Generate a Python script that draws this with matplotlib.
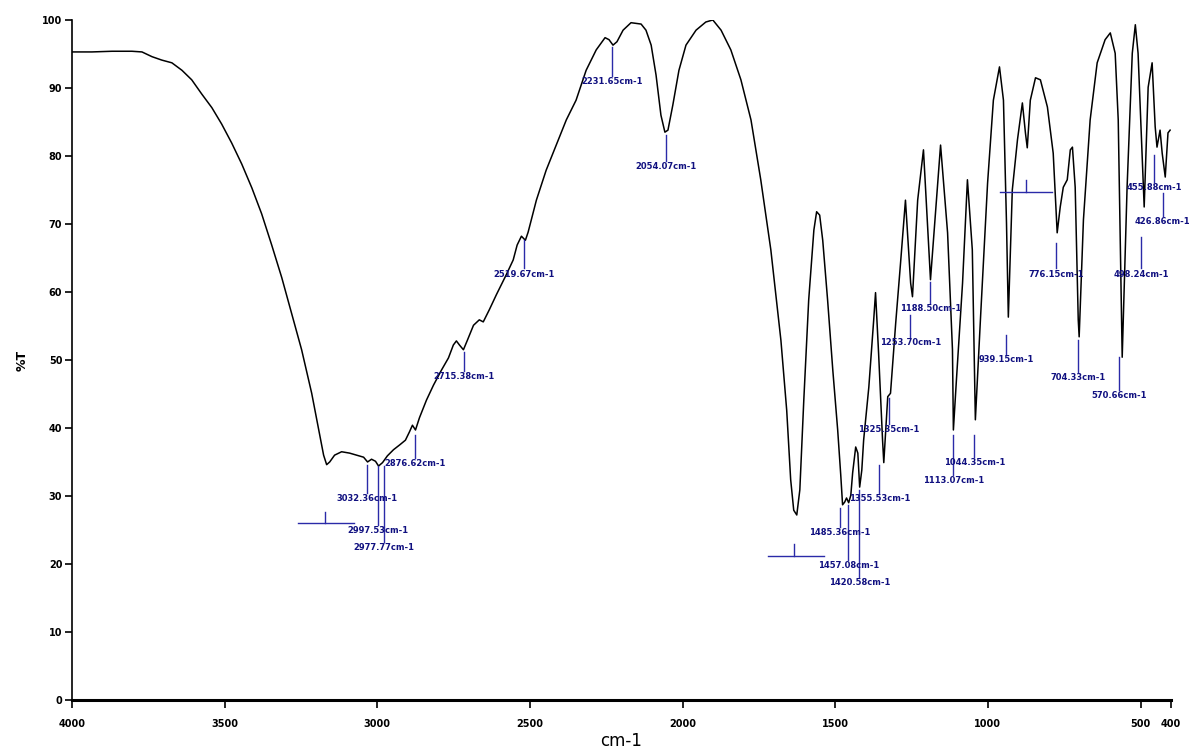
import matplotlib
matplotlib.use("Agg")
import matplotlib.pyplot as plt

# spectrum
wavenumber = [4000, 3993, 3935, 3869, 3804, 3771, 3738, 3706, 3673, 3640, 3608, 3575, 3542, 3510,
              3477, 3444, 3411, 3379, 3346, 3313, 3281, 3248, 3215, 3189, 3176, 3166, 3156, 3140,
              3117, 3091, 3068, 3045, 3032, 3019, 3006, 2996, 2983, 2967, 2947, 2927, 2908, 2895,
              2885, 2875, 2862, 2839, 2816, 2790, 2767, 2751, 2741, 2731, 2718, 2705, 2685, 2666,
              2653, 2633, 2610, 2578, 2555, 2542, 2528, 2515, 2506, 2479, 2447, 2414, 2381, 2349,
              2316, 2283, 2254, 2241, 2228, 2215, 2195, 2169, 2136, 2120, 2103, 2087, 2071, 2058,
              2048, 2032, 2012, 1989, 1956, 1924, 1901, 1874, 1842, 1809, 1776, 1744, 1711, 1678,
              1659, 1646, 1636, 1626, 1616, 1603, 1587, 1570, 1561, 1551, 1541, 1525, 1508, 1492,
              1482, 1476, 1469, 1463, 1456, 1449, 1443, 1433, 1426, 1420, 1413, 1407, 1390, 1374,
              1368, 1358, 1345, 1341, 1328, 1319, 1302, 1286, 1270, 1253, 1247, 1230, 1211, 1188,
              1171, 1155, 1132, 1116, 1113, 1103, 1083, 1067, 1051, 1041, 1024, 1001, 982, 962,
              949, 939, 933, 920, 903, 887, 877, 871, 861, 844, 828, 805, 786, 773, 763, 753, 740,
              730, 723, 714, 704, 701, 687, 665, 642, 616, 599, 583, 573, 560, 544, 527, 517, 508,
              495, 488, 475, 462, 452, 446, 436, 429, 419, 410, 403]
transmittance = [95.3, 95.3, 95.3, 95.4, 95.4, 95.3, 94.6, 94.1, 93.7, 92.6, 91.2, 89.1, 87.1, 84.7,
                 81.9, 78.8, 75.3, 71.5, 66.9, 62.1, 56.9, 51.5, 45.1, 39.0, 36.0, 34.6, 35.0, 36.0,
                 36.5, 36.3, 36.0, 35.7, 35.0, 35.4, 35.1, 34.4, 34.9, 35.9, 36.8, 37.5, 38.2, 39.4,
                 40.4, 39.7, 41.5, 44.1, 46.3, 48.5, 50.3, 52.2, 52.8, 52.2, 51.5, 52.9, 55.1, 55.9,
                 55.6, 57.4, 59.6, 62.5, 64.7, 66.9, 68.2, 67.6, 68.8, 73.5, 77.9, 81.6, 85.3, 88.2,
                 92.6, 95.6, 97.4, 97.1, 96.3, 96.8, 98.5, 99.6, 99.4, 98.5, 96.3, 91.9, 86.0, 83.5,
                 83.8, 87.5, 92.6, 96.3, 98.5, 99.7, 100.0, 98.5, 95.6, 91.2, 85.3, 76.5, 66.2, 52.9,
                 42.6, 32.4, 27.9, 27.2, 30.9, 44.1, 58.8, 69.1, 71.8, 71.3, 67.6, 58.8, 48.5, 39.7,
                 33.1, 28.7, 29.1, 29.7, 29.0, 30.1, 33.4, 37.2, 36.3, 31.3, 33.8, 38.2, 46.0, 55.9,
                 59.9, 51.0, 38.2, 34.9, 44.6, 45.1, 55.4, 64.3, 73.5, 61.3, 59.3, 73.5, 80.9, 61.8,
                 72.1, 81.6, 68.7, 51.5, 39.7, 47.1, 61.3, 76.5, 66.2, 41.2, 56.3, 76.0, 88.2, 93.1,
                 88.2, 70.1, 56.3, 75.0, 82.4, 87.8, 83.4, 81.2, 88.2, 91.5, 91.2, 87.2, 80.4, 68.7,
                 72.5, 75.4, 76.5, 80.9, 81.3, 75.4, 55.9, 53.4, 70.6, 85.3, 93.7, 97.1, 98.1, 95.1,
                 85.3, 50.4, 75.4, 95.1, 99.3, 95.1, 80.4, 72.5, 90.1, 93.7, 84.3, 81.3, 83.8, 80.4,
                 76.9, 83.4, 83.8]

# labelled peaks
peaks = [3032.36, 2997.53, 2977.77, 2876.62, 2715.38, 2519.67, 2231.65, 2054.07,
         1485.36, 1457.08, 1420.58, 1355.53, 1325.35, 1253.70, 1188.50, 1113.07,
         1044.35, 939.15, 776.15, 704.33, 570.66, 498.24, 455.88, 426.86]
# where each marker line starts and where its text sits (%T)
peak_top = [34.6, 34.4, 34.4, 39.0, 51.2, 67.6, 96.0, 83.1,
            28.2, 28.7, 30.9, 34.6, 44.4, 56.6, 61.5, 39.0,
            39.0, 53.7, 67.2, 52.9, 50.4, 68.1, 80.1, 74.6]
peak_text = [29.6, 24.9, 22.4, 34.7, 47.5, 62.6, 90.9, 78.4,
             24.6, 19.7, 17.2, 29.6, 39.7, 52.5, 57.5, 32.2,
             34.9, 50.0, 62.6, 47.4, 44.7, 62.6, 75.3, 70.3]

# horizontal range markers: (left, right, tick, level)
ranges = [(3261, 3075, 3173, 26.0), (1721, 1538, 1636, 21.2), (959, 789, 874, 74.7)]

xticks = [4000, 3500, 3000, 2500, 2000, 1500, 1000, 500, 400]
yticks = [0, 10, 20, 30, 40, 50, 60, 70, 80, 90, 100]

fig = plt.figure(figsize=(11.89, 7.51), dpi=100)
ax = fig.add_axes([0.0606, 0.068, 0.9243, 0.9054])

ax.plot(wavenumber, transmittance, color="black", lw=1.1)

blue = "#2a2aa8"
for wn, top, ty in zip(peaks, peak_top, peak_text):
    ax.plot([wn, wn], [top, ty + 0.9], color=blue, lw=1)
    ax.text(wn, ty, "%.2fcm-1" % wn, ha="center", va="center", fontsize=6,
            fontweight="bold", color="#101080")

for left, right, tick, lvl in ranges:
    ax.plot([left, right], [lvl, lvl], color=blue, lw=1)
    ax.plot([tick, tick], [lvl, lvl + 1.7], color=blue, lw=1)

ax.set_xlim(4000, 400)
ax.set_ylim(0, 100)
ax.set_xticks(xticks)
ax.set_xticklabels([str(t) for t in xticks], fontsize=7, fontweight="bold")
ax.set_yticks(yticks)
ax.set_yticklabels([str(t) for t in yticks], fontsize=7, fontweight="bold")
ax.tick_params(axis="x", direction="out", length=6, width=1.2, pad=8)
ax.tick_params(axis="y", direction="out", length=5, width=1.2, pad=2)

ax.spines["top"].set_visible(False)
ax.spines["right"].set_visible(False)
ax.spines["bottom"].set_linewidth(2.2)
ax.spines["left"].set_linewidth(1.2)

ax.set_xlabel("cm-1", fontsize=12, labelpad=2)
ax.set_ylabel("%T", fontsize=9, fontweight="bold", labelpad=10)

fig.savefig("out.png", dpi=100)
